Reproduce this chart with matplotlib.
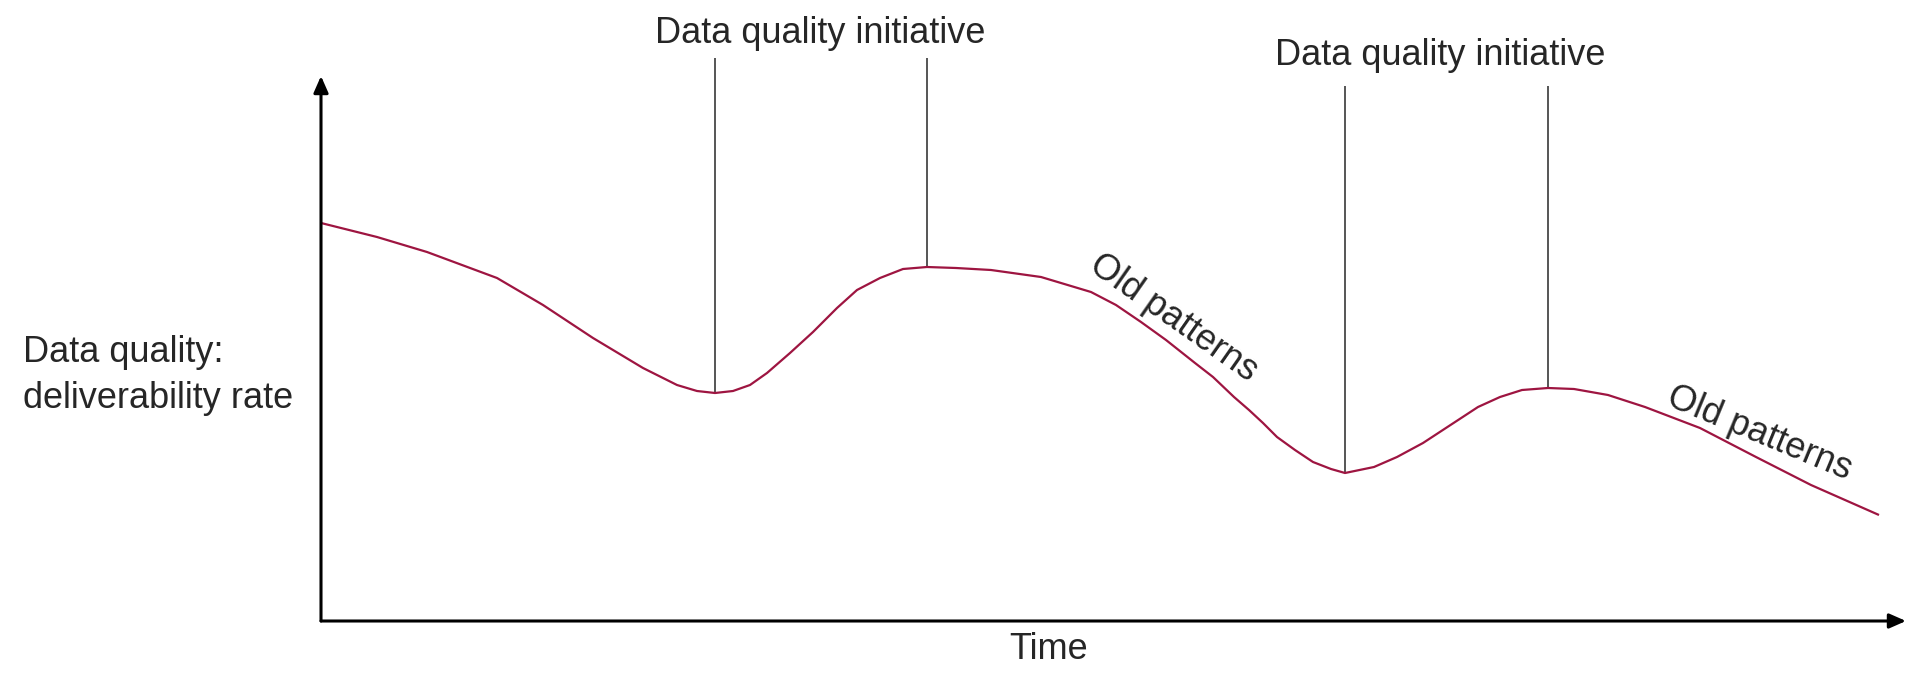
import numpy as np
import matplotlib
matplotlib.use("Agg")
import matplotlib.pyplot as plt

# curve (time units / quality units, arbitrary)
time = [0, 56, 106, 176, 222, 272, 322, 356, 376, 394, 412, 429, 446, 469,
        492, 516, 536, 559, 582, 606, 635, 670, 720, 770, 795, 820, 845, 874,
        892, 913, 928, 942, 956, 974, 992, 1010, 1024, 1053, 1076, 1102, 1157,
        1179, 1201, 1227, 1253, 1287, 1324, 1379, 1435, 1490, 1558]
quality = [398, 384, 369, 343, 316, 283, 253, 236, 230, 228, 230, 236, 248, 268,
           289, 313, 331, 343, 352, 354, 353, 351, 344, 329, 316, 299, 281, 258,
           244, 224, 211, 198, 184, 171, 159, 152, 148, 154, 164, 178, 214,
           224, 231, 233, 232, 226, 214, 193, 164, 136, 106]

# initiative start/end markers
init_times = [394, 606, 1024, 1227]
init_tops = [563, 563, 535, 535]
init_labels = ["Data quality initiative", "Data quality initiative"]
init_label_pos = [(499, 578), (1119, 556)]

old_labels = ["Old patterns", "Old patterns"]
old_pos = [(853, 303), (1438, 188)]
old_rot = [-35, -22.5]

x_max = 1585
y_max = 545

plt.rcParams['font.family'] = ['Liberation Sans', 'DejaVu Sans']
txt_color = '#262626'
curve_color = '#9E1541'

fig = plt.figure(figsize=(19.2, 6.91), dpi=100)
ax = fig.add_axes([321 / 1920, 70 / 691, x_max / 1920, y_max / 691])
ax.set_xlim(0, x_max)
ax.set_ylim(0, y_max)
ax.axis('off')

ax.plot(time, quality, color=curve_color, lw=1.6, solid_capstyle='butt',
        solid_joinstyle='round', zorder=3)

bottoms = np.interp(init_times, time, quality)
ax.vlines(init_times, bottoms, init_tops, color='#555555', lw=1.4, clip_on=False, zorder=2)

for lab, (xx, yy) in zip(init_labels, init_label_pos):
    ax.text(xx, yy, lab, ha='center', va='baseline', fontsize=26,
            color=txt_color, clip_on=False)

for lab, (xx, yy), rot in zip(old_labels, old_pos, old_rot):
    ax.text(xx, yy, lab, ha='center', va='center', rotation=rot, rotation_mode='anchor',
            fontsize=26, color=txt_color)

# axes arrows
arrow = dict(arrowstyle='-|>,head_length=0.5,head_width=0.22', color='black',
             lw=2.2, mutation_scale=20, shrinkA=0, shrinkB=0)
ax.annotate('', xy=(x_max, 0), xytext=(0, 0), arrowprops=arrow, annotation_clip=False)
ax.annotate('', xy=(0, y_max), xytext=(0, 0), arrowprops=arrow, annotation_clip=False)

ax.text(728, -38, "Time", ha='center', va='baseline', fontsize=26, color=txt_color,
        clip_on=False)
fig.text(23 / 1920, 1 - 362 / 691, "Data quality:", ha='left', va='baseline',
         fontsize=26, color=txt_color)
fig.text(23 / 1920, 1 - 408 / 691, "deliverability rate", ha='left', va='baseline',
         fontsize=26, color=txt_color)

fig.savefig('out.png', dpi=100, facecolor='white')
